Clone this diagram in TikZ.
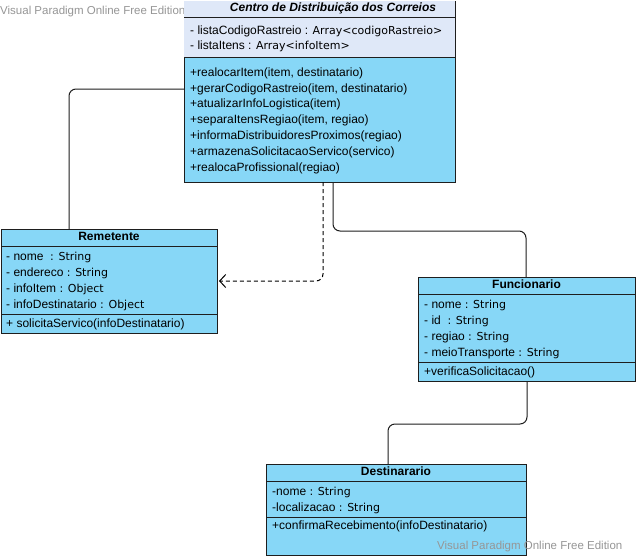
\documentclass[tikz,border=0pt]{standalone}
\usepackage{fontspec}
\setmainfont{Liberation Sans}
\newfontfamily\typef{DejaVu Sans}
\usetikzlibrary{arrows.meta}
\definecolor{boxc}{RGB}{135,215,247}
\definecolor{lightc}{RGB}{223,232,248}
\definecolor{linec}{RGB}{30,30,30}
\definecolor{wmc}{RGB}{150,150,150}
\tikzset{
  box/.style={draw=linec, fill=boxc, line width=0.9pt, anchor=north west, inner sep=0pt, outer sep=0pt},
  sep/.style={draw=linec, line width=0.9pt},
  txt/.style={anchor=west, inner sep=0pt, text height=8.5pt, text depth=2.5pt, font=\fontsize{12}{14}\selectfont},
  ttl/.style={anchor=center, inner sep=0pt, text height=8.5pt, text depth=2.5pt, font=\fontsize{12}{14}\selectfont\bfseries},
  conn/.style={draw=linec, line width=1pt, rounded corners=7pt},
  dep/.style={conn, draw=black, dash pattern=on 4pt off 3pt, -{Straight Barb[length=6pt,width=13pt,line width=1pt]}},
  wm/.style={anchor=west, inner sep=0pt, text=wmc, font=\fontsize{11.5}{13}\selectfont},
}
\newcommand{\ty}[1]{{\typef\fontsize{11}{14}\selectfont #1}}
\begin{document}
\begin{tikzpicture}[x=1pt,y=-1pt]
\useasboundingbox (0,0) rectangle (637,557);
\fill[white] (0,0) rectangle (637,557);
% watermark top
\node[wm] (wm1) at (0,12) {Visual Paradigm Online Free Edition};

% boxes
\node[box, minimum width=271pt, minimum height=181pt] (centro) at (184,1) {};
\node[box, minimum width=216pt, minimum height=104pt] (rem) at (1,229) {};
\node[box, minimum width=217pt, minimum height=104pt] (fun) at (418,277) {};
\node[box, minimum width=260pt, minimum height=91pt] (dest) at (266,464) {};

% connectors
\draw[conn] ([xshift=68pt]rem.north west) |- ([yshift=-88pt]centro.north west);
\draw[conn] ([xshift=149pt]centro.south west) |- ([yshift=46pt,xshift=108pt]fun.north west) -- ([xshift=108pt]fun.north west);
\draw[dep] ([xshift=139pt]centro.south west) |- ([yshift=-52pt,xshift=2pt]rem.north east);
\draw[conn] ([xshift=109pt]fun.south west) |- ([yshift=40pt,xshift=122pt]dest.north west) -- ([xshift=122pt]dest.north west);

% Centro compartments
\fill[lightc] ([xshift=0.45pt,yshift=-0.45pt]centro.north west) rectangle ([xshift=-0.45pt,yshift=-56pt]centro.north east);
\draw[sep] ([yshift=-16pt]centro.north west) -- ([yshift=-16pt]centro.north east);
\draw[sep] ([yshift=-56pt]centro.north west) -- ([yshift=-56pt]centro.north east);
\node[ttl, font=\fontsize{12}{14}\selectfont\bfseries\itshape] (ct) at (333,8) {Centro de Distribuição dos Correios};
\node[txt] (ca1) at (190,31) {- listaCodigoRastreio : \ty{Array<codigoRastreio>}};
\node[txt] (ca2) at (190,46) {- listaItens : \ty{Array<infoItem>}};
\node[txt] (cm1) at (190,73) {+realocarItem(item, destinatario)};
\node[txt] (cm2) at (190,89) {+gerarCodigoRastreio(item, destinatario)};
\node[txt] (cm3) at (190,104.5) {+atualizarInfoLogistica(item)};
\node[txt] (cm4) at (190,120.5) {+separaItensRegiao(item, regiao)};
\node[txt] (cm5) at (190,136.5) {+informaDistribuidoresProximos(regiao)};
\node[txt] (cm6) at (190,152.5) {+armazenaSolicitacaoServico(servico)};
\node[txt] (cm7) at (190,168.5) {+realocaProfissional(regiao)};

% Remetente
\draw[sep] ([yshift=-17pt]rem.north west) -- ([yshift=-17pt]rem.north east);
\draw[sep] ([yshift=-85pt]rem.north west) -- ([yshift=-85pt]rem.north east);
\node[ttl] (rt) at (109,237) {Remetente};
\node[txt] (ra1) at (6,257) {- nome \ \ty{: String}};
\node[txt] (ra2) at (6,273) {- endereco \ty{: String}};
\node[txt] (ra3) at (6,289) {- infoItem \ty{: Object}};
\node[txt] (ra4) at (6,305) {- infoDestinatario \ty{: Object}};
\node[txt] (rm1) at (6,324) {+ solicitaServico(infoDestinatario)};

% Funcionario
\draw[sep] ([yshift=-17pt]fun.north west) -- ([yshift=-17pt]fun.north east);
\draw[sep] ([yshift=-85pt]fun.north west) -- ([yshift=-85pt]fun.north east);
\node[ttl] (ft) at (526.5,285) {Funcionario};
\node[txt] (fa1) at (424,305) {- nome \ty{: String}};
\node[txt] (fa2) at (424,321) {- id \ \ty{: String}};
\node[txt] (fa3) at (424,337) {- regiao \ty{: String}};
\node[txt] (fa4) at (424,353) {- meioTransporte \ty{: String}};
\node[txt] (fm1) at (424,372) {+verificaSolicitacao()};

% Destinarario
\draw[sep] ([yshift=-17pt]dest.north west) -- ([yshift=-17pt]dest.north east);
\draw[sep] ([yshift=-53pt]dest.north west) -- ([yshift=-53pt]dest.north east);
\node[ttl] (dt) at (396,472) {Destinarario};
\node[txt] (da1) at (272,492) {-nome \ty{: String}};
\node[txt] (da2) at (272,508) {-localizacao \ty{: String}};
\node[txt] (dm1) at (272,526) {+confirmaRecebimento(infoDestinatario)};

% watermark bottom
\node[wm] (wm2) at (437,547) {Visual Paradigm Online Free Edition};
\end{tikzpicture}
\end{document}
